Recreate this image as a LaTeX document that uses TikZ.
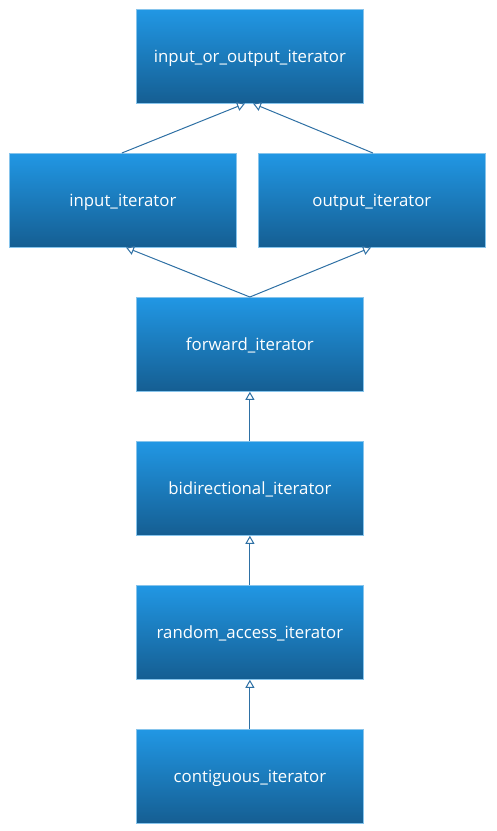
\documentclass[tikz,border=0pt]{standalone}
\usepackage{fontspec}
\setmainfont{Open Sans}
\usetikzlibrary{arrows.meta}
\definecolor{boxtop}{HTML}{2197E4}
\definecolor{boxbot}{HTML}{155E92}
\definecolor{boxedge}{HTML}{86C4EC}
\definecolor{linkc}{HTML}{2E70A4}
\begin{document}
\begin{tikzpicture}[x=1pt,y=-1pt,
  cls/.style={draw=boxedge, line width=0.8pt, top color=boxtop, bottom color=boxbot,
    minimum width=227pt, minimum height=94pt, inner sep=0pt, text=white,
    text height=17pt, text depth=4pt,
    font=\fontsize{16.8}{19}\selectfont, anchor=north west},
  inh/.style={draw=linkc, line width=1pt, -{Triangle[open, length=8pt, width=9pt, fill=white]}}]
\useasboundingbox (0,0) rectangle (497,831);
\node[cls] (io) at (136,9) {input\_or\_output\_iterator};
\node[cls] (in) at (9,153) {input\_iterator};
\node[cls] (out) at (258,153) {output\_iterator};
\node[cls] (fw) at (136,297) {forward\_iterator};
\node[cls] (bi) at (136,441) {bidirectional\_iterator};
\node[cls] (ra) at (136,585) {random\_access\_iterator};
\node[cls] (co) at (136,729) {contiguous\_iterator};
\coordinate (ioL) at (245,103.5);
\coordinate (ioR) at (253,103.5);
\coordinate (inB) at (126,247.5);
\coordinate (outB) at (371,247.5);
\draw[inh] (in.north) ++(-1,0) -- (ioL);
\draw[inh] (out.north) ++(1,0) -- (ioR);
\draw[inh] (fw.north) -- (inB);
\draw[inh] (fw.north) -- (outB);
\draw[inh] (bi.north) -- (fw.south);
\draw[inh] (ra.north) -- (bi.south);
\draw[inh] (co.north) -- (ra.south);
\end{tikzpicture}
\end{document}
